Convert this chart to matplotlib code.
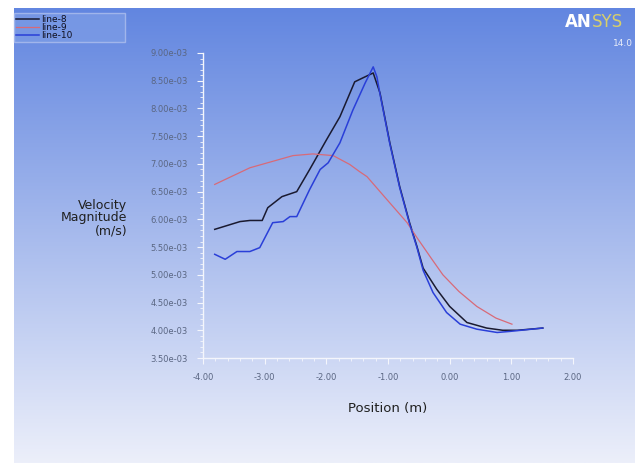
import numpy as np
import matplotlib
matplotlib.use("Agg")
import matplotlib.pyplot as plt
from matplotlib.ticker import FormatStrFormatter, MultipleLocator

# line-8 (black)
x8 = [-3.81, -3.40, -3.24, -3.04, -2.95, -2.72, -2.48, -2.27, -2.00, -1.78,
      -1.54, -1.41, -1.24, -1.13, -0.97, -0.81, -0.65, -0.53, -0.43, -0.21,
      0.00, 0.28, 0.60, 0.86, 1.10, 1.51]
y8 = [5.82, 5.96, 5.98, 5.98, 6.21, 6.41, 6.50, 6.90, 7.43, 7.85,
      8.48, 8.55, 8.64, 8.28, 7.38, 6.59, 5.94, 5.51, 5.12, 4.74,
      4.43, 4.14, 4.04, 4.00, 4.00, 4.04]

# line-9 (red)
x9 = [-3.81, -3.24, -2.54, -2.22, -1.89, -1.62, -1.46, -1.34, -1.02, -0.69,
      -0.53, -0.30, -0.11, 0.15, 0.44, 0.75, 1.01]
y9 = [6.63, 6.93, 7.15, 7.18, 7.15, 6.99, 6.86, 6.77, 6.36, 5.94,
      5.67, 5.30, 5.00, 4.70, 4.43, 4.22, 4.11]

# line-10 (blue)
x10 = [-3.81, -3.64, -3.45, -3.24, -3.08, -2.87, -2.70, -2.59, -2.48, -2.27,
       -2.10, -1.97, -1.78, -1.57, -1.37, -1.24, -1.18, -1.13, -0.97, -0.81,
       -0.65, -0.53, -0.43, -0.27, -0.05, 0.17, 0.44, 0.77, 0.98, 1.51]
y10 = [5.37, 5.28, 5.42, 5.42, 5.49, 5.94, 5.96, 6.05, 6.05, 6.54,
       6.90, 7.02, 7.38, 7.97, 8.46, 8.75, 8.57, 8.26, 7.36, 6.57,
       5.92, 5.49, 5.08, 4.68, 4.32, 4.11, 4.02, 3.96, 3.98, 4.04]

scale = 1e-3

fig = plt.figure(figsize=(6.4, 4.63), dpi=100)
fig.patch.set_facecolor("white")

# gradient background
bg = fig.add_axes([14 / 640, 0, 621 / 640, 455 / 463])
top = np.array([98, 134, 224]) / 255
bottom = np.array([236, 239, 250]) / 255
t = np.linspace(0, 1, 256)[:, None]
grad = top * (1 - t) + bottom * t
bg.imshow(grad[:, None, :], aspect="auto", extent=[0, 1, 0, 1])
bg.set_axis_off()

ax = fig.add_axes([203 / 640, 1 - 358 / 463, 370 / 640, 305 / 463])
ax.patch.set_alpha(0)
ax.plot(x8, np.array(y8) * scale, color="#1a1a30", lw=1.1, label="line-8")
ax.plot(x9, np.array(y9) * scale, color="#d86a78", lw=0.9, label="line-9")
ax.plot(x10, np.array(y10) * scale, color="#2a3fd8", lw=1.1, label="line-10")

ax.set_xlim(-4, 2)
ax.set_ylim(3.5e-3, 9.0e-3)
ax.xaxis.set_major_locator(MultipleLocator(1))
ax.yaxis.set_major_locator(MultipleLocator(0.5e-3))
ax.xaxis.set_minor_locator(MultipleLocator(0.2))
ax.yaxis.set_minor_locator(MultipleLocator(0.1e-3))
ax.xaxis.set_major_formatter(FormatStrFormatter("%.2f"))
ax.yaxis.set_major_formatter(FormatStrFormatter("%.2e"))
for s in ["top", "right"]:
    ax.spines[s].set_visible(False)
for s in ["left", "bottom"]:
    ax.spines[s].set_color("#f4f6fc")
    ax.spines[s].set_linewidth(1.0)
ax.tick_params(axis="both", which="major", colors="#f4f6fc", length=4,
               labelcolor="#5a6682", labelsize=6, pad=7)
ax.tick_params(axis="both", which="minor", colors="#f4f6fc", length=2)

ax.set_xlabel("Position (m)", fontsize=9.5, color="#202020", labelpad=14)
fig.text(127 / 640, 1 - 218 / 463, "Velocity\nMagnitude\n(m/s)", ha="right",
         va="center", fontsize=9, color="#202020", linespacing=0.95)

# legend box, stretched to the width of the Fluent legend
leg = ax.legend(loc="lower left",
                bbox_to_anchor=(14 / 640, 1 - 42 / 463, 111 / 640, 34 / 463),
                bbox_transform=fig.transFigure, mode="expand", fontsize=6.5,
                frameon=True, handlelength=2.5, handletextpad=0.2,
                labelspacing=-0.15, borderpad=0.25, borderaxespad=0,
                fancybox=False)
leg.get_frame().set_facecolor("#7b9be6")
leg.get_frame().set_edgecolor("#aebfee")
leg.get_frame().set_linewidth(1.0)
for txt in leg.get_texts():
    txt.set_color("#101020")

# ANSYS logo
fig.text(565 / 640, 1 - 22 / 463, "AN", fontsize=12, weight="bold",
         color="white", va="center", ha="left")
fig.text(592 / 640, 1 - 22 / 463, "SYS", fontsize=12, color="#d8cf6a",
         va="center", ha="left")
fig.text(633 / 640, 1 - 44 / 463, "14.0", fontsize=6.5, color="#e8ecf8",
         va="center", ha="right")

fig.savefig("out.png", dpi=100)
